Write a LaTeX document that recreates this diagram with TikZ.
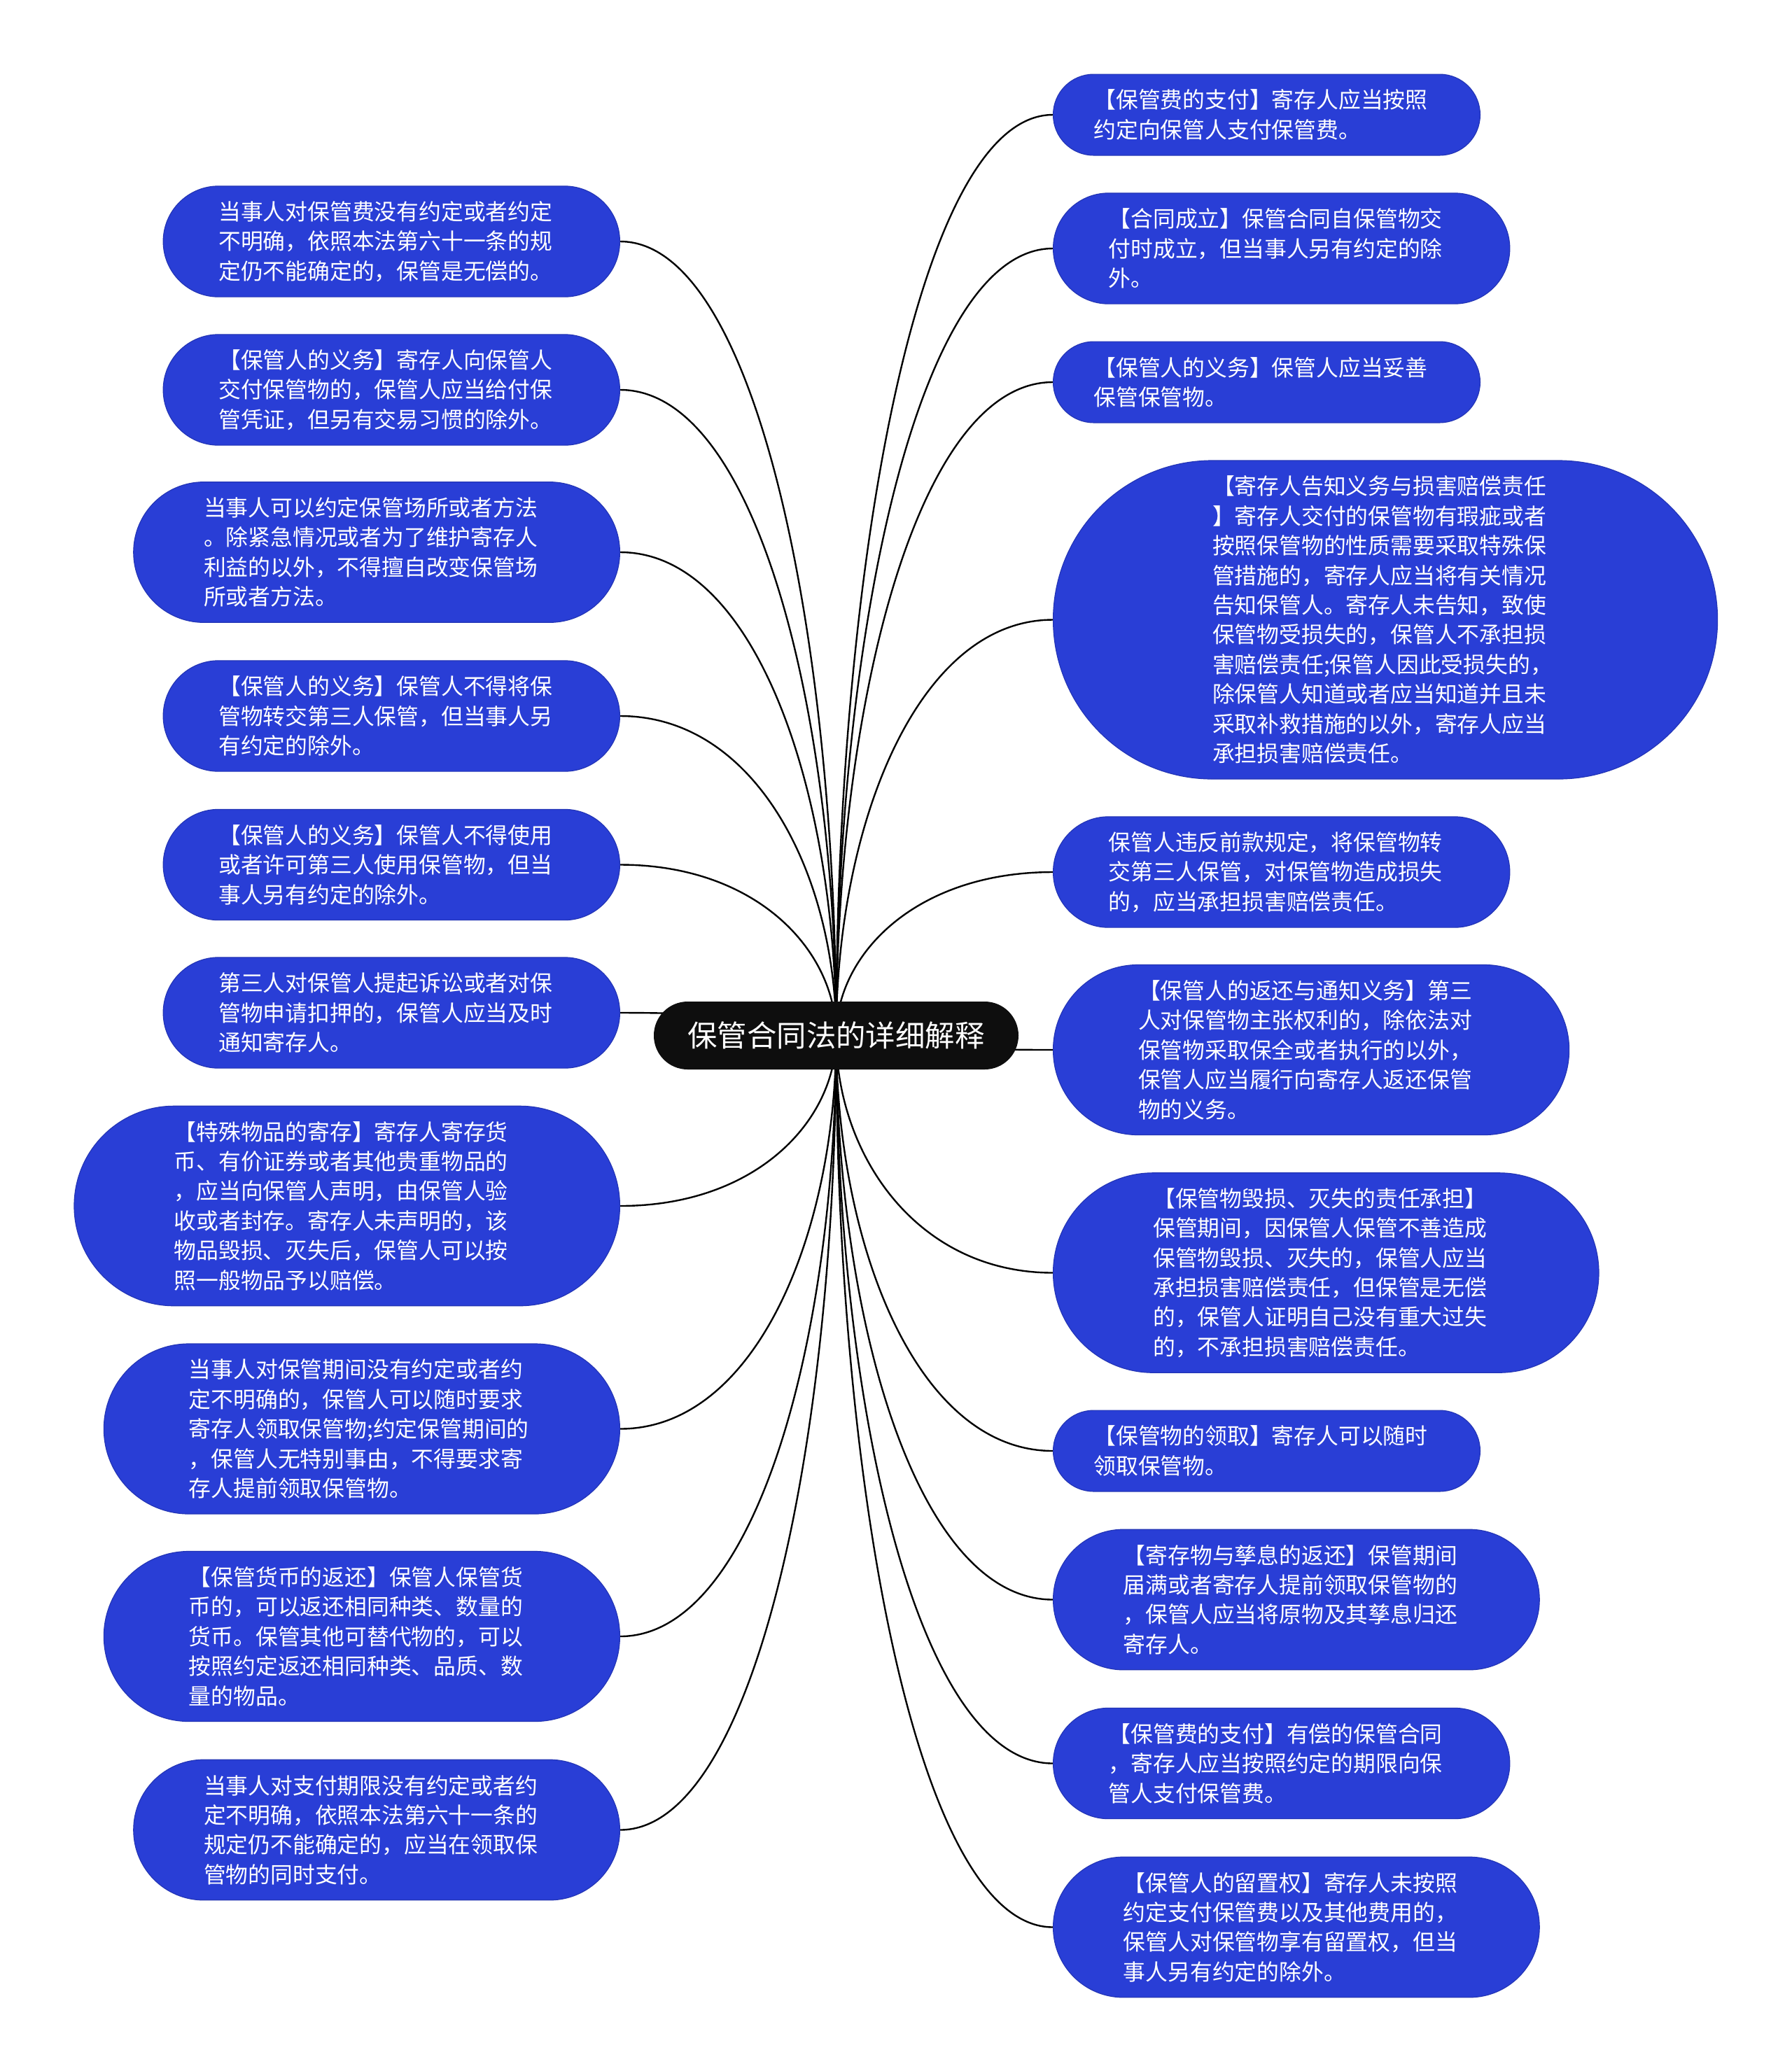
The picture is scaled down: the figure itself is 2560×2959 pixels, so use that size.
\documentclass[tikz,border=0pt]{standalone}
\usepackage{fontspec}
\newfontfamily\cjk{Noto Sans CJK SC}
\usetikzlibrary{calc,backgrounds}
\definecolor{leafblue}{RGB}{41,62,214}
\definecolor{rootblack}{RGB}{14,14,14}
\tikzset{
  leaf/.style={rectangle, fill=leafblue, draw=leafblue!85!black, line width=0.3pt,
    text=white, font=\cjk\fontsize{7.95pt}{10.6pt}\selectfont,
    text width=123.5pt, align=left, inner xsep=0pt, inner ysep=2pt},
  nl2/.style={minimum height=28.95pt, minimum width=152.45pt, rounded corners=14.45pt},
  nl3/.style={minimum height=39.55pt, minimum width=163.05pt, rounded corners=19.75pt},
  nl4/.style={minimum height=50.15pt, minimum width=173.65pt, rounded corners=25.05pt},
  nl5/.style={minimum height=60.75pt, minimum width=184.25pt, rounded corners=30.35pt},
  nl6/.style={minimum height=71.35pt, minimum width=194.85pt, rounded corners=35.65pt},
  nl10/.style={minimum height=113.75pt, minimum width=237.25pt, rounded corners=56.85pt},
  rootnode/.style={rectangle, fill=rootblack, text=white,
    font=\cjk\fontsize{10.6pt}{12pt}\selectfont, inner xsep=0pt, inner ysep=2pt,
    minimum height=24.25pt, minimum width=130.25pt, rounded corners=12.1pt},
  link/.style={draw=black, line width=0.6pt}
}
\begin{document}
\begin{tikzpicture}[x=0.25pt, y=-0.25pt]
\useasboundingbox (0,0) rectangle (2560,2959);

\node[rootnode] (c) at (1194.5,1479.5) {保管合同法的详细解释};

% left side
\node[leaf, nl3, anchor=east] (L1) at (886,345) {当事人对保管费没有约定或者约定\\不明确，依照本法第六十一条的规\\定仍不能确定的，保管是无偿的。};
\node[leaf, nl3, anchor=east] (L2) at (886,557) {【保管人的义务】寄存人向保管人\\交付保管物的，保管人应当给付保\\管凭证，但另有交易习惯的除外。};
\node[leaf, nl4, anchor=east] (L3) at (886,789) {当事人可以约定保管场所或者方法\\。除紧急情况或者为了维护寄存人\\利益的以外，不得擅自改变保管场\\所或者方法。};
\node[leaf, nl3, anchor=east] (L4) at (886,1023) {【保管人的义务】保管人不得将保\\管物转交第三人保管，但当事人另\\有约定的除外。};
\node[leaf, nl3, anchor=east] (L5) at (886,1235.5) {【保管人的义务】保管人不得使用\\或者许可第三人使用保管物，但当\\事人另有约定的除外。};
\node[leaf, nl3, anchor=east] (L6) at (886,1447) {第三人对保管人提起诉讼或者对保\\管物申请扣押的，保管人应当及时\\通知寄存人。};
\node[leaf, nl6, anchor=east] (L7) at (886,1723) {【特殊物品的寄存】寄存人寄存货\\币、有价证券或者其他贵重物品的\\，应当向保管人声明，由保管人验\\收或者封存。寄存人未声明的，该\\物品毁损、灭失后，保管人可以按\\照一般物品予以赔偿。};
\node[leaf, nl5, anchor=east] (L8) at (886,2041.5) {当事人对保管期间没有约定或者约\\定不明确的，保管人可以随时要求\\寄存人领取保管物;约定保管期间的\\，保管人无特别事由，不得要求寄\\存人提前领取保管物。};
\node[leaf, nl5, anchor=east] (L9) at (886,2338) {【保管货币的返还】保管人保管货\\币的，可以返还相同种类、数量的\\货币。保管其他可替代物的，可以\\按照约定返还相同种类、品质、数\\量的物品。};
\node[leaf, nl4, anchor=east] (L10) at (886,2614.5) {当事人对支付期限没有约定或者约\\定不明确，依照本法第六十一条的\\规定仍不能确定的，应当在领取保\\管物的同时支付。};

% right side
\node[leaf, nl2, anchor=west] (R1) at (1504,164) {【保管费的支付】寄存人应当按照\\约定向保管人支付保管费。};
\node[leaf, nl3, anchor=west] (R2) at (1504,355) {【合同成立】保管合同自保管物交\\付时成立，但当事人另有约定的除\\外。};
\node[leaf, nl2, anchor=west] (R3) at (1504,546) {【保管人的义务】保管人应当妥善\\保管保管物。};
\node[leaf, nl10, anchor=west] (R4) at (1504,885.5) {【寄存人告知义务与损害赔偿责任\\】寄存人交付的保管物有瑕疵或者\\按照保管物的性质需要采取特殊保\\管措施的，寄存人应当将有关情况\\告知保管人。寄存人未告知，致使\\保管物受损失的，保管人不承担损\\害赔偿责任;保管人因此受损失的，\\除保管人知道或者应当知道并且未\\采取补救措施的以外，寄存人应当\\承担损害赔偿责任。};
\node[leaf, nl3, anchor=west] (R5) at (1504,1246) {保管人违反前款规定，将保管物转\\交第三人保管，对保管物造成损失\\的，应当承担损害赔偿责任。};
\node[leaf, nl5, anchor=west] (R6) at (1504,1500) {【保管人的返还与通知义务】第三\\人对保管物主张权利的，除依法对\\保管物采取保全或者执行的以外，\\保管人应当履行向寄存人返还保管\\物的义务。};
\node[leaf, nl6, anchor=west] (R7) at (1504,1818.5) {【保管物毁损、灭失的责任承担】\\保管期间，因保管人保管不善造成\\保管物毁损、灭失的，保管人应当\\承担损害赔偿责任，但保管是无偿\\的，保管人证明自己没有重大过失\\的，不承担损害赔偿责任。};
\node[leaf, nl2, anchor=west] (R8) at (1504,2073) {【保管物的领取】寄存人可以随时\\领取保管物。};
\node[leaf, nl4, anchor=west] (R9) at (1504,2285.5) {【寄存物与孳息的返还】保管期间\\届满或者寄存人提前领取保管物的\\，保管人应当将原物及其孳息归还\\寄存人。};
\node[leaf, nl3, anchor=west] (R10) at (1504,2519.5) {【保管费的支付】有偿的保管合同\\，寄存人应当按照约定的期限向保\\管人支付保管费。};
\node[leaf, nl4, anchor=west] (R11) at (1504,2753.5) {【保管人的留置权】寄存人未按照\\约定支付保管费以及其他费用的，\\保管人对保管物享有留置权，但当\\事人另有约定的除外。};

\begin{pgfonlayer}{background}
\fill[white] (0,0) rectangle (2560,2959);
\foreach \n/\a in {L1/east,L2/east,L3/east,L4/east,L5/east,L6/east,L7/east,L8/east,L9/east,L10/east,
                   R1/west,R2/west,R3/west,R4/west,R5/west,R6/west,R7/west,R8/west,R9/west,R10/west,R11/west}{
  \draw[link] (c.center) .. controls ($(c.center)!0.5!(c.center|-\n.\a)$) and ($(\n.\a)!0.63!(\n.\a-|c.center)$) .. (\n.\a);
}
\end{pgfonlayer}
\end{tikzpicture}
\end{document}
